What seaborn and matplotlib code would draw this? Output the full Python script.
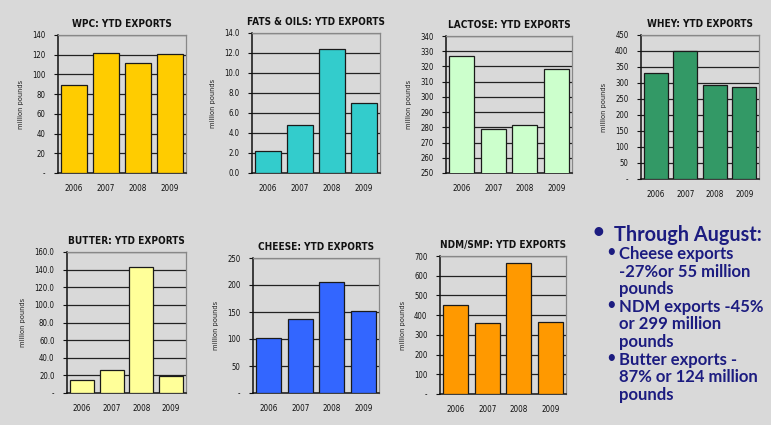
import numpy as np
import pandas as pd
import matplotlib
matplotlib.use("Agg")
import matplotlib.pyplot as plt
import seaborn as sns
from matplotlib.ticker import FixedLocator

years = ["2006", "2007", "2008", "2009"]

wpc = [89.5, 122, 112, 120.5]
fats_oils = [2.2, 4.8, 12.4, 7.0]
lactose = [327, 279, 281.5, 318.5]
whey = [332, 399, 294, 289]
butter = [14.5, 26, 143, 19]
cheese = [102, 137, 205.5, 151.5]
ndm_smp = [450, 359, 665, 364]

bullet_head = "Through August:"
bullet_items = [
    ["Cheese exports", "-27%or 55 million", "pounds"],
    ["NDM exports -45%", "or 299 million", "pounds"],
    ["Butter exports -", "87% or 124 million", "pounds"],
]

W, H = 771, 425
BG = "#d9d9d9"

sns.set_theme(style="white")
plt.rcParams["font.family"] = ["DejaVu Sans"]
plt.rcParams["font.stretch"] = "condensed"

fig = plt.figure(figsize=(W / 100, H / 100), dpi=100, facecolor=BG)


def panel(box, values, color, title, ymin, ymax, step, fmt, zero_dash=True):
    left, top, right, bottom = box
    ax = fig.add_axes([left / W, 1 - bottom / H, (right - left) / W, (bottom - top) / H])
    ax.set_facecolor(BG)
    df = pd.DataFrame({"year": years, "value": values})
    sns.barplot(data=df, x="year", y="value", color=color, saturation=1,
                width=0.8, edgecolor="#1a1a1a", linewidth=0.9, ax=ax, zorder=3)
    ax.set_ylim(ymin, ymax)
    ax.set_xlim(-0.5, 3.5)
    ticks = np.arange(ymin, ymax + step / 2, step)
    ax.yaxis.set_major_locator(FixedLocator(ticks))
    labels = []
    for t in ticks:
        if zero_dash and t == 0:
            labels.append("-")
        else:
            labels.append(fmt.format(t))
    ax.set_yticklabels(labels)
    for t in ticks[1:]:
        ax.axhline(t, color="#222222", lw=0.9, zorder=1)
    ax.set_xticks(range(4))
    ax.set_xticks(np.arange(-0.5, 4, 1), minor=True)
    ax.tick_params(axis="x", which="major", length=0, labelsize=5.8, pad=8, colors="#111111")
    ax.tick_params(axis="x", which="minor", length=3, direction="out", width=0.8, color="#111111")
    ax.tick_params(axis="y", length=3, direction="out", width=0.8, labelsize=5.6,
                   pad=6, colors="#111111", left=True)
    ax.set_xlabel("")
    ax.set_ylabel("million pounds", fontsize=5.3, labelpad=6, color="#222222")
    ax.set_title(title, fontsize=7.2, fontweight="bold", color="#111111", pad=6)
    for s in ["left", "bottom"]:
        ax.spines[s].set_color("#111111")
        ax.spines[s].set_linewidth(1.1)
    for s in ["top", "right"]:
        ax.spines[s].set_color("#888888")
        ax.spines[s].set_linewidth(0.9)
    return ax


panel((58, 35, 186, 173), wpc, "#ffcc00", "WPC: YTD EXPORTS", 0, 140, 20, "{:.0f}")
panel((252, 33, 380, 173), fats_oils, "#33cccc", "FATS & OILS: YTD EXPORTS", 0, 14, 2, "{:.1f}", zero_dash=False)
panel((446, 36, 572, 173), lactose, "#ccffcc", "LACTOSE: YTD EXPORTS", 250, 340, 10, "{:.0f}", zero_dash=False)
panel((641, 35, 759, 179), whey, "#339966", "WHEY: YTD EXPORTS", 0, 450, 50, "{:.0f}")
panel((67, 252, 186, 393), butter, "#ffff99", "BUTTER: YTD EXPORTS", 0, 160, 20, "{:.1f}")
panel((253, 258, 379, 393), cheese, "#3366ff", "CHEESE: YTD EXPORTS", 0, 250, 50, "{:.0f}")
panel((440, 256, 566, 394), ndm_smp, "#ff9900", "NDM/SMP: YTD EXPORTS", 0, 700, 100, "{:.0f}")

navy = "#1c1c80"
txt_font = ["Lato", "DejaVu Sans"]
fig.text(591 / W, 1 - 233 / H, "\u2022", fontsize=17, color=navy, va="center",
         family=txt_font, stretch="normal")
fig.text(614 / W, 1 - 235 / H, bullet_head, fontsize=14.3, fontweight="bold", color=navy,
         va="center", family=txt_font, stretch="normal")
y = 254
for item in bullet_items:
    fig.text(606 / W, 1 - (y - 2) / H, "\u2022", fontsize=12, color=navy, va="center",
             family=txt_font, stretch="normal")
    for line in item:
        fig.text(619 / W, 1 - y / H, line, fontsize=12, fontweight="bold", color=navy,
                 va="center", family=txt_font, stretch="normal")
        y += 17.6

fig.savefig("out.png", dpi=100, facecolor=BG)
